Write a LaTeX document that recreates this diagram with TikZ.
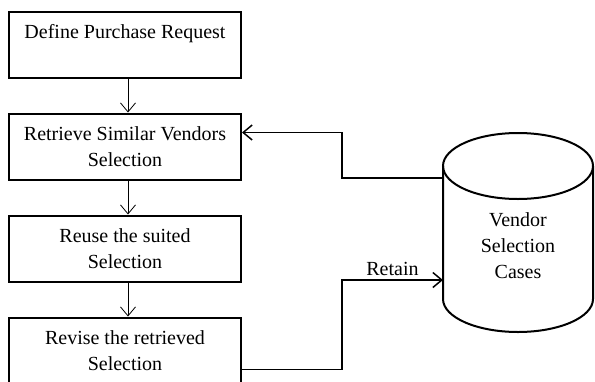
\documentclass[tikz,border=0pt]{standalone}
\usepackage{fontspec}
\setmainfont{Liberation Serif}
\usetikzlibrary{positioning, arrows.meta, calc}

\tikzset{
	stepbox/.style={draw, line width=2pt, minimum width=232pt, minimum height=66pt,
		align=center, inner sep=0pt, font=\fontsize{20}{26}\selectfont},
	flow/.style={-{Straight Barb[length=9pt, width=15pt]}, line width=0.8pt},
	link/.style={-{Straight Barb[length=9pt, width=15pt]}, line width=1.5pt},
	store/.style={line width=2pt},
}

\begin{document}
\begin{tikzpicture}[x=1pt, y=-1pt, node distance=34pt]
		\clip (0,0) rectangle (595,381);
		\node[stepbox] (define) at (125,44.5) {Define Purchase Request\\ \mbox{}};
		\node[stepbox, below=of define] (retrieve) {Retrieve Similar Vendors\\Selection};
		\node[stepbox, below=of retrieve] (reuse) {Reuse the suited\\Selection};
		\node[stepbox, below=of reuse] (revise) {Revise the retrieved\\Selection};
		% case base
		\draw[store] (443,166) -- (443,299) arc[start angle=180, end angle=0, x radius=75, y radius=33] -- (593,166);
		\draw[store] (518,166) ellipse[x radius=75, y radius=33];
		\node[font=\fontsize{20}{26}\selectfont, align=center] (cases) at (518,246) {Vendor\\Selection\\Cases};
		\coordinate (dbout) at (443,178);
		\coordinate (dbin) at (443,280);
		\coordinate (backjog) at (342,178);
		\coordinate (retainjog) at (342,280);
		\path[flow]
		([xshift=3pt]define.south) edge ([xshift=3pt]retrieve.north)
		([xshift=3pt]retrieve.south) edge ([xshift=3pt]reuse.north)
		([xshift=3pt]reuse.south) edge ([xshift=3pt]revise.north);
		\draw[link] (dbout) -- (backjog) |- ([yshift=14pt]retrieve.east);
		\draw[link] ([yshift=-19pt]revise.east) -| (retainjog) -- node[above, font=\fontsize{20}{24}\selectfont] {Retain} (dbin);
	\end{tikzpicture}
\end{document}
